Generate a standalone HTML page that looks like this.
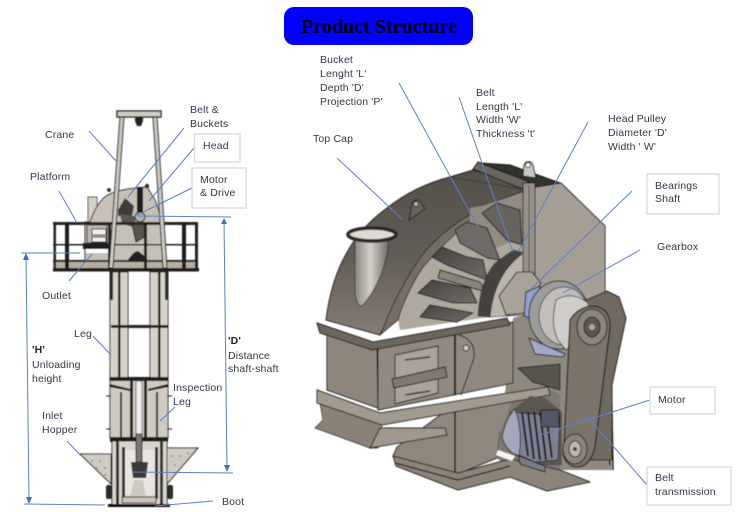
<!DOCTYPE html>
<html><head><meta charset="utf-8"><style>
html,body{margin:0;padding:0;background:#fff}
svg{display:block}
.t text{font:10.5px "Liberation Sans",sans-serif;fill:#33364a;letter-spacing:.15px}
.l line{stroke:#5b80c8;stroke-width:1}
.k{stroke:#1c1a18;stroke-width:1;stroke-linejoin:round}
</style></head><body>
<svg width="750" height="512" viewBox="0 0 750 512" xmlns="http://www.w3.org/2000/svg">
<defs>
<linearGradient id="hood" x1="0" y1="0" x2="0" y2="1"><stop offset="0" stop-color="#55504b"/><stop offset=".5" stop-color="#615c56"/><stop offset="1" stop-color="#857d73"/></linearGradient>
<linearGradient id="pipe" x1="0" y1="0" x2="1" y2="0"><stop offset="0" stop-color="#8b857f"/><stop offset=".45" stop-color="#d5d0ca"/><stop offset="1" stop-color="#6b6762"/></linearGradient>
<linearGradient id="bk" x1="0" y1="0" x2="1" y2="1"><stop offset="0" stop-color="#45423f"/><stop offset="1" stop-color="#6f6c68"/></linearGradient>
<filter id="b"><feGaussianBlur stdDeviation=".4"/></filter>
</defs>
<rect x="284" y="7" width="189" height="38" rx="10" fill="#0000fb"/>
<text x="301" y="33" font-family="Liberation Serif" font-weight="bold" font-size="20" textLength="156" fill="#000">Product Structure</text>

<g filter="url(#b)">
<!-- LEFT ELEVATOR -->
<rect x="88" y="197" width="9" height="25" fill="#d4cfc7" stroke="#555"/>
<path class="k" d="M90,222 Q96,204 106,196 Q117,189 147,187 L155,200 L163,222 V262 H85 V222Z" fill="#c6c0b6"/>
<circle cx="109" cy="190" r="2" fill="#333"/><circle cx="147" cy="186" r="2.200" fill="#333"/>
<rect x="137" y="187" width="6" height="31" fill="#211f1d"/>
<path d="M118,210 L125,198 L134,206 L132,216 L118,216Z" fill="#3d3a37"/>
<path d="M120,214 L134,216 L137,228 L122,224Z" fill="#5a5652"/>
<circle cx="140" cy="217" r="5" fill="#b6b1a9" stroke="#111"/>
<path d="M132,224 L144,224 L146,236 L136,242Z" fill="#575450" stroke="#111"/>
<rect x="87" y="225" width="20" height="18" fill="#bdb6ab" stroke="#222"/>
<rect x="92" y="229" width="14" height="6" fill="#eee" stroke="#333"/>
<rect x="92" y="237" width="14" height="5" fill="#eee" stroke="#333"/>
<rect x="83" y="243" width="27" height="6" fill="#1e1c1a"/>
<rect x="86" y="249" width="22" height="4" fill="#fff"/>
<path d="M128,260 Q134,251 138,251 L147,258 L147,261Z" fill="#222"/>
<!-- platform -->
<rect x="53" y="262" width="144" height="6" fill="#b5ae9f"/>
<rect x="53" y="222" width="145" height="3" fill="#2a2826"/>
<rect x="53" y="244" width="145" height="1.500" fill="#222"/>
<rect x="53" y="260" width="145" height="2" fill="#222"/>
<rect x="53" y="268" width="146" height="3.500" fill="#211f1d"/>
<rect x="53.500" y="222" width="2.500" height="47" fill="#222"/><rect x="65" y="222" width="4" height="47" fill="#1e1c1a"/>
<rect x="108" y="222" width="3" height="47" fill="#222"/><rect x="144" y="222" width="3" height="47" fill="#222"/>
<rect x="182" y="222" width="4" height="47" fill="#1e1c1a"/><rect x="195" y="222" width="3" height="47" fill="#222"/>
<!-- crane -->
<path class="k" d="M120,117 L124,117 L113,268 L109,268Z" fill="#ccc9c4"/>
<path class="k" d="M153,117 L157,117 L167,268 L163,268Z" fill="#ccc9c4"/>
<rect x="117" y="111" width="44" height="6" fill="#cfccc6" stroke="#111" stroke-width="1.300"/>
<path d="M135,117 H143 V121 L141,126 H137 L135,121Z" fill="#222"/>
<!-- legs -->
<rect x="110" y="272" width="18" height="107" fill="#d6d1c9" stroke="#2a2826"/>
<rect x="150" y="272" width="18" height="107" fill="#d6d1c9" stroke="#2a2826"/>
<rect x="118" y="272" width="2.500" height="107" fill="#2a2826"/><rect x="158" y="272" width="2.500" height="107" fill="#2a2826"/>
<rect x="111" y="325" width="57" height="3" fill="#2a2826"/>
<rect x="110" y="272" width="3" height="28" fill="#2c2a28"/><rect x="165" y="272" width="3" height="28" fill="#2c2a28"/>
<rect x="110" y="378" width="58" height="60" fill="#cfc9c0" stroke="#222"/>
<rect x="110" y="377" width="58" height="4" fill="#1f1d1b"/>
<path d="M110,384 L130,389 V391 L110,387Z M168,384 L148,389 V391 L168,387Z" fill="#1f1d1b"/>
<rect x="120" y="392" width="2" height="46" fill="#333"/><rect x="156" y="392" width="2" height="46" fill="#333"/>
<rect x="130" y="379" width="3" height="59" fill="#222"/><rect x="144" y="379" width="3" height="59" fill="#222"/>
<rect x="136" y="381" width="6" height="55" fill="#eee" stroke="#666"/>
<path d="M106,396 h5 M106,429 h5 M167,396 h5 M167,429 h5" stroke="#222"/>
<rect x="110" y="437" width="58" height="5" fill="#1c1a18"/>
<!-- hopper -->
<path class="k" d="M80,454 H111 V484Z" fill="#cfcac2"/>
<path class="k" d="M198,448 H167 V484Z" fill="#cfcac2"/>
<g fill="#555"><circle cx="92" cy="461" r=".8"/><circle cx="100" cy="461" r=".8"/><circle cx="105" cy="468" r=".8"/><circle cx="97" cy="468" r=".8"/><circle cx="105" cy="475" r=".8"/><circle cx="172" cy="456" r=".8"/><circle cx="180" cy="456" r=".8"/><circle cx="188" cy="453" r=".8"/><circle cx="175" cy="465" r=".8"/></g>
<rect x="112" y="441" width="55" height="64" fill="#d9d4cc" stroke="#222"/>
<rect x="116" y="441" width="3" height="64" fill="#333"/><rect x="160" y="441" width="3" height="64" fill="#333"/>
<rect x="122" y="447" width="3" height="52" fill="#333"/><rect x="155" y="447" width="3" height="52" fill="#333"/>
<rect x="125" y="450" width="30" height="45" fill="#e9e6e1"/>
<rect x="136" y="434" width="6" height="28" fill="#777" stroke="#222"/>
<path d="M131,462 H148 L146,478 H133Z" fill="#3a3835" />
<path d="M134,480 L143,480 L146,497 H130Z" fill="#cdc8c0"/>
<rect x="106" y="485" width="6" height="14" rx="2" fill="#2c2a28"/><rect x="167" y="485" width="6" height="14" rx="2" fill="#2c2a28"/>
<rect x="122" y="497" width="34" height="6" fill="#c9c3ba" stroke="#222"/>
<rect x="108" y="504" width="62" height="3" fill="#111"/>

<!-- RIGHT MACHINE -->
<!-- backing -->
<path d="M513,318 L575,300 L605,297 L612,470 L520,470 L500,440Z" fill="#8f887e"/>
<path d="M535,187 L561,183 L605,226 V300 L590,303 L530,320Z" fill="#a69e95" stroke="#1d1b19"/>
<!-- hood -->
<path d="M326,320 Q335,245 387,208 Q415,186 450,177 L473,170 L527,185 V192 Q470,205 423,258 Q400,295 380,335Z" fill="url(#hood)" stroke="#1d1b19"/>
<path d="M473,169 L478,162 L527,180 L530,188 L525,190Z" fill="#6b665f" stroke="#1a1816"/>
<path d="M480,163 L510,165 L535,174 L560,183 L537,187 L527,181Z" fill="#33302d" stroke="#1a1816"/>
<path d="M450,177 L527,190" stroke="#2a2825" stroke-width=".6"/>
<!-- interior -->
<path d="M398,320 Q408,280 430,250 Q460,216 523,192 V312 L400,330Z" fill="#afa89e"/>
<path d="M381,334 Q397,290 423,254 Q460,210 526,191 V196 Q490,202 482,210 Q450,237 423,267 Q405,295 398,320Z" fill="#746e66" stroke="#1d1b19" stroke-width=".8"/>
<path d="M470,208 L482,206 L524,192 V238 L490,250 L470,222Z" fill="#928b82"/>
<!-- buckets -->
<g class="k" fill="url(#bk)" stroke-width=".6">
<path d="M482,213 L497,203 L520,210 L522,245 L507,240Z" fill="#68645f"/>
<path d="M455,230 L467,222 L487,228 L500,260 L487,258 L460,243Z" fill="#6e6b68"/>
<path d="M432,257 L442,247 L467,257 L483,260 L487,280 L447,265Z"/>
<path d="M418,293 L432,280 L470,288 L477,303 L453,303Z"/>
<path d="M420,317 L430,305 L473,313 L457,322Z"/>
<path d="M440,270 L480,282 L486,292 L438,278Z" fill="#8a837a"/>
</g>
<path d="M478,316 Q480,280 495,263 L513,250 L522,252 L520,258 Q498,275 490,317Z" fill="#45423e" stroke="#1d1b19" stroke-width=".5"/>
<path d="M490,317 Q494,275 522,254 L526,254 V315Z" fill="#bbb4aa" stroke="#222" stroke-width=".6"/>
<rect x="523" y="183" width="12" height="92" fill="#98918a" stroke="#1d1b19"/>
<path d="M529,185 V272" stroke="#555"/>
<path d="M499,296 L517,272 L532,272 L541,283 L527,313 L506,315Z" fill="#aaa298" stroke="#1d1b19"/>
<!-- pipe -->
<path d="M355,240 V295 Q358,308 362,306 Q385,280 389,240Z" fill="url(#pipe)" stroke="#2a2826" stroke-width=".7"/>
<ellipse cx="372" cy="234.500" rx="24" ry="6.500" fill="#ded9d3" stroke="#2a2826" stroke-width="3.500"/>
<!-- lugs -->
<path d="M523,176 L524,165 A5,6 0 0 1 533,165 L534,170 L536,178Z" fill="#cbc6bf" stroke="#222"/><circle cx="528" cy="165" r="2.500" fill="#fff" stroke="#222"/>
<path d="M409,220 L412,204 A5,6 0 0 1 421,203 L425,209Z" fill="#69645e" stroke="#222"/><circle cx="416" cy="204" r="2.500" fill="#b5b0a9" stroke="#222"/>
<!-- lower housing -->
<path d="M397,447 L443,413 L455,412 L513,398 L520,400 L500,433 L497,458 L458,474 L393,456Z" fill="#8f877d" stroke="#1d1b19"/>
<path d="M513,398 L548,388 L560,395 V470 L510,470 L497,458 L500,433Z" fill="#7f786e"/>
<path d="M455,412 V474" stroke="#1d1b19" stroke-width="1.500"/>
<path class="k" d="M393,456 L458,473 L510,459 L560,470 L590,482 L547,491 L510,477 L458,490 L396,466Z" fill="#8c8479"/>
<path d="M395,463 L458,480 L510,466" fill="none" stroke="#1c1a18" stroke-width="1.200"/>
<path d="M327,335 L377,348 L378,408 L327,390Z" fill="#8e867c" stroke="#1d1b19"/>
<path d="M378,348 L513,322 V383 L378,410Z" fill="#918980" stroke="#1d1b19"/>
<path d="M455,332 V395" stroke="#1a1816" stroke-width="2"/>
<path d="M459,335 Q476,340 474,358 L461,395" fill="#938b81" stroke="#1d1b19"/>
<circle cx="466" cy="348" r="3" fill="#ccc" stroke="#222"/>
<path d="M395,355 L438,346 V393 L395,404Z" fill="#aaa39a" stroke="#1d1b19"/>
<path d="M392,379 L445,367 L447,377 L394,388Z" fill="#807970" stroke="#1d1b19"/>
<path d="M405,360 L430,357 M405,395 L430,391" stroke="#333" stroke-width="1.500"/>
<path d="M317,323 L373,342 L507,318 L510,325 L372,350 L320,333Z" fill="#6d665d" stroke="#1d1b19"/>
<path d="M320,403 L382,425 L378,448 L370,448 L315,428 L323,420Z" fill="#8a8277" stroke="#1d1b19" stroke-width=".7"/>
<path d="M317,390 L380,413 L548,387 L550,395 L382,425 L317,403Z" fill="#a39b90" stroke="#1d1b19"/>
<path d="M370,448 L447,435 L445,428 L380,428Z" fill="#a0988d" stroke="#1d1b19"/>
<!-- motor -->
<path d="M502,437 Q505,418 515,408 L530,396 L545,398 L562,412 V465 L533,466 L514,455Z" fill="#5b5752" />
<path d="M510,412 L560,416 L558,460 L535,462 L512,452Z" fill="#808094" stroke="#222" stroke-width=".8"/>
<path d="M502,437 Q506,417 515,409 Q523,430 519,456 L512,453Q504,446 502,437Z" fill="#a4a6bc" stroke="#333"/>
<path d="M522,412 L528,456 M528,412 L534,459 M534,412 L540,460 M540,412 L546,460 M546,414 L552,458" stroke="#1b1b20" stroke-width="2"/>
<rect x="541" y="410" width="18" height="17" fill="#55556a" stroke="#222"/>
<path d="M519,456 L545,466 V472 L520,464Z" fill="#7a7a8a" stroke="#222"/>
<path d="M498,450 L515,456 L512,461 L496,455Z" fill="#f4f4f4"/>
<path d="M611,360 L613,470 M604,383 L610,465" stroke="#222" stroke-width="1.500"/>
<!-- gearbox -->
<path d="M575,305 L607,291 L619,297 L626,318 L612,385 V460 L590,460 V310Z" fill="#6f6961" stroke="#1d1b19"/>
<path d="M526,292 L540,286 L536,320 L524,316Z" fill="#8fa0d0" stroke="#222"/>
<path d="M529,338 L565,354 L563,357 L535,354Z" fill="#a3a8c6" stroke="#222"/>
<path d="M518,368 L560,364 V390 L533,382Z" fill="#59554f" stroke="#222"/>
<ellipse cx="559" cy="315" rx="30" ry="34" fill="#9c9c9c" stroke="#222"/>
<ellipse cx="564" cy="316" rx="25" ry="29" fill="#c2bfbb" stroke="#555"/>
<path d="M556,300 Q572,290 588,303 L590,325 L566,350 L558,340Q550,325 556,300Z" fill="#cfcdc9" stroke="#555"/>
<!-- belt -->
<path d="M570,320 Q578,307 593,306 Q611,308 610,328 L595,447 Q590,468 575,467 Q560,462 564,445Z" fill="#7c736a" stroke="#1d1b19" stroke-width="1.200"/>
<ellipse cx="592" cy="327" rx="15" ry="18" fill="#8c847a" stroke="#222"/>
<ellipse cx="592" cy="327" rx="8" ry="10" fill="#5d574f" stroke="#222"/><circle cx="592" cy="327" r="3" fill="#aaa"/>
<ellipse cx="575" cy="449" rx="12" ry="15" fill="#8c847a" stroke="#222"/>
<ellipse cx="575" cy="449" rx="6" ry="8" fill="#bdb7ae" stroke="#222"/><circle cx="575" cy="449" r="2" fill="#444"/>
</g>

<!-- leaders -->
<g class="l" fill="none">
<line x1="89" y1="131" x2="116" y2="161"/><line x1="184" y1="128" x2="128" y2="197"/>
<line x1="194" y1="148" x2="149" y2="201"/><line x1="192" y1="188" x2="135" y2="216"/>
<line x1="59" y1="191" x2="77" y2="223"/><line x1="69" y1="281" x2="92" y2="254"/>
<line x1="93" y1="336" x2="111" y2="355"/><line x1="175" y1="407" x2="160" y2="421"/>
<line x1="67" y1="441" x2="80" y2="455"/><line x1="213" y1="501" x2="155" y2="506"/>
<line x1="21" y1="253" x2="80" y2="253"/><line x1="24" y1="504" x2="105" y2="505"/>
<line x1="26" y1="256" x2="29" y2="498"/>
<line x1="138" y1="216" x2="231" y2="217"/><line x1="133" y1="472" x2="233" y2="473"/>
<line x1="224" y1="220" x2="227" y2="468"/>
<line x1="399" y1="83" x2="478" y2="227"/><line x1="459" y1="97" x2="513" y2="252"/>
<line x1="588" y1="122" x2="518" y2="252"/><line x1="337" y1="158" x2="402" y2="219"/>
<line x1="632" y1="191" x2="530" y2="290"/><line x1="640" y1="250" x2="563" y2="293"/>
<line x1="650" y1="400" x2="540" y2="435"/><line x1="585" y1="414" x2="647" y2="485"/>
</g>
<g fill="#3c6fc8">
<path d="M26,253 L23,260 H29Z"/><path d="M29,504 L26,497 H32Z"/>
<path d="M224,218 L221,224 H227Z"/><path d="M227,472 L224,465 H230Z"/>
</g>
<!-- boxes -->
<g fill="#fff" stroke="#d9d9d9" stroke-width="1.300">
<rect x="194.500" y="134" width="45.500" height="28"/>
<rect x="192" y="168" width="54" height="40"/>
<rect x="647" y="174" width="72" height="40"/>
<rect x="650" y="387" width="65" height="27"/>
<rect x="647" y="467" width="84" height="38"/>
</g>
<!-- labels -->
<g class="t">
<text x="320" y="63">Bucket</text><text x="320" y="77">Lenght 'L'</text><text x="320" y="91">Depth 'D'</text><text x="320" y="105">Projection 'P'</text>
<text x="476" y="96">Belt</text><text x="476" y="110">Length 'L'</text><text x="476" y="123">Width 'W'</text><text x="476" y="137">Thickness 't'</text>
<text x="608" y="122">Head Pulley</text><text x="608" y="136">Diameter 'D'</text><text x="608" y="150">Width ' W'</text>
<text x="313" y="142">Top Cap</text><text x="45" y="138">Crane</text>
<text x="190" y="113">Belt &amp;</text><text x="190" y="127">Buckets</text>
<text x="203" y="149">Head</text><text x="200" y="183">Motor</text><text x="200" y="196">&amp; Drive</text>
<text x="30" y="180">Platform</text><text x="42" y="299">Outlet</text><text x="74" y="337">Leg</text>
<text x="32" y="353" style="font-weight:bold;fill:#222">'H'</text><text x="32" y="368">Unloading</text><text x="32" y="382">height</text>
<text x="228" y="344" style="font-weight:bold;fill:#222">'D'</text><text x="228" y="359">Distance</text><text x="228" y="372">shaft-shaft</text>
<text x="173" y="391">Inspection</text><text x="173" y="405">Leg</text>
<text x="42" y="419">Inlet</text><text x="42" y="433">Hopper</text><text x="222" y="505">Boot</text>
<text x="655" y="189">Bearings</text><text x="655" y="202">Shaft</text><text x="657" y="250">Gearbox</text>
<text x="658" y="403">Motor</text><text x="655" y="481">Belt</text><text x="655" y="495">transmission</text>
</g>
</svg>
</body></html>
